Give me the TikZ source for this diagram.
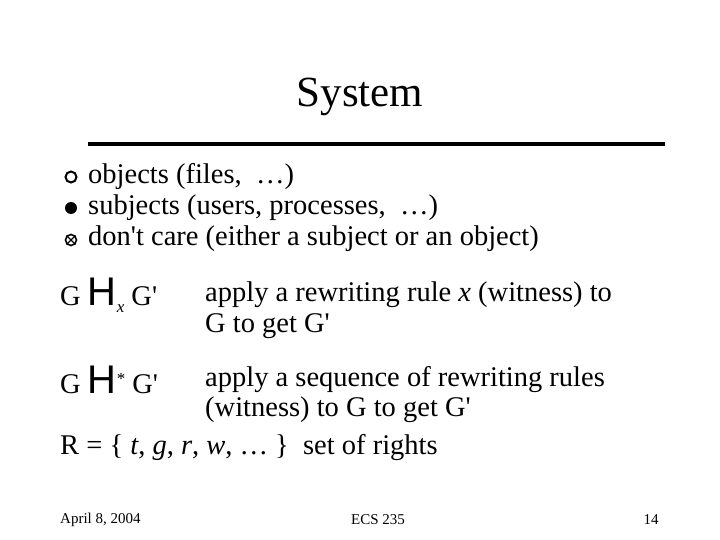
\documentclass[tikz,border=0pt]{standalone}
\usepackage{fontspec}
\setmainfont{Liberation Serif}
\newfontfamily\hsans{Liberation Sans}
\newcommand{\ap}{\textquotesingle}
\begin{document}
\begin{tikzpicture}[x=1pt,y=-1pt,
  txt/.style={anchor=west,inner sep=0pt,font=\fontsize{28.5}{32}\selectfont},
  foot/.style={inner sep=0pt,font=\fontsize{15}{17}\selectfont}]
\useasboundingbox[fill=white] (0,0) rectangle (720,540);
\node[inner sep=0pt,font=\fontsize{43}{48}\selectfont] (title) at (360,97) {System};
\coordinate (l1) at (88,144); \coordinate (l2) at (665,144);
\draw[line width=3.5pt] (l1) -- (l2);
\node[circle,draw,line width=2pt,minimum size=11pt,inner sep=0pt] (b1) at (71,177) {};
\node[circle,fill,minimum size=12pt,inner sep=0pt] (b2) at (71,208) {};
\node[circle,draw,line width=1.6pt,minimum size=11pt,inner sep=0pt] (b3) at (71,240) {};
\draw[line width=1.4pt] (b3.north west) -- (b3.south east) (b3.north east) -- (b3.south west);
\node[txt] (t1) at (88,177) {objects (files,\ \ …)};
\node[txt] (t2) at (88,208) {subjects (users, processes,\ \ …)};
\node[txt] (t3) at (88,239) {don\ap t care (either a subject or an object)};
\node[txt] (g1) at (60,295) {G {\hsans\fontsize{40}{42}\selectfont H}\raisebox{-7pt}{\fontsize{17}{17}\selectfont\textit{x}} G\ap};
\node[txt] (a1) at (205,295) {apply a rewriting rule \textit{x} (witness) to};
\node[txt] (a2) at (205,326) {G to get G\ap};
\node[txt] (g2) at (60,380) {G {\hsans\fontsize{40}{42}\selectfont H}\raisebox{9pt}{\fontsize{17}{17}\selectfont *} G\ap};
\node[txt] (a3) at (205,380) {apply a sequence of rewriting rules};
\node[txt] (a4) at (205,410) {(witness) to G to get G\ap};
\node[txt] (r) at (60,448) {R = \{ \textit{t}, \textit{g}, \textit{r}, \textit{w}, … \}\ \ set of rights};
\node[foot,anchor=west] (f1) at (60,520) {April 8, 2004};
\node[foot] (f2) at (378,520) {ECS 235};
\node[foot] (f3) at (651,520) {14};
\end{tikzpicture}
\end{document}
